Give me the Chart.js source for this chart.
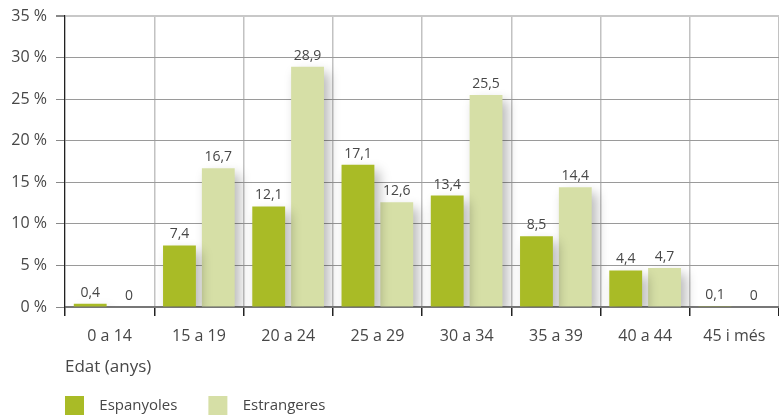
<!DOCTYPE html>
<html>
<head>
<meta charset="utf-8">
<script src="https://cdn.jsdelivr.net/npm/chart.js@4.4.1/dist/chart.umd.min.js"></script>
<style>
  html, body { margin: 0; padding: 0; background: #fff; }
  #wrap { width: 779px; height: 416px; }
</style>
</head>
<body>
<div id="wrap"><canvas id="chart"></canvas></div>
<script>
const categories = ['0 a 14', '15 a 19', '20 a 24', '25 a 29', '30 a 34', '35 a 39', '40 a 44', '45 i més'];
const espanyoles = [0.4, 7.4, 12.1, 17.1, 13.4, 8.5, 4.4, 0.1];
const estrangeres = [0, 16.7, 28.9, 12.6, 25.5, 14.4, 4.7, 0];
const yTicks = [0, 5, 10, 15, 20, 25, 30, 35];

const FONT = '"Open Sans", "DejaVu Sans", sans-serif';
const TEXT = '#474747';
const LEGEND_GAP = 31;

// soft drop shadow under the bars
const barShadow = {
  id: 'barShadow',
  beforeDatasetsDraw(chart) {
    const ctx = chart.ctx;
    ctx.save();
    ctx.shadowColor = 'rgba(0,0,0,0.28)';
    ctx.shadowBlur = 12;
    ctx.shadowOffsetX = 5;
    ctx.shadowOffsetY = 6;
  },
  afterDatasetsDraw(chart) {
    chart.ctx.restore();
  }
};

// value above each bar, decimal comma
const valueLabels = {
  id: 'valueLabels',
  afterDatasetsDraw(chart) {
    const ctx = chart.ctx;
    ctx.save();
    ctx.font = '14px ' + FONT;
    ctx.fillStyle = TEXT;
    ctx.textAlign = 'center';
    ctx.textBaseline = 'bottom';
    chart.data.datasets.forEach((ds, i) => {
      chart.getDatasetMeta(i).data.forEach((bar, j) => {
        const txt = String(ds.data[j]).replace('.', ',');
        ctx.fillText(txt, bar.x, bar.y - 4);
      });
    });
    ctx.restore();
  }
};

// legend sits flush with the y axis line; undo the label padding offset
const legendShift = {
  id: 'legendShift',
  afterLayout(chart) {
    chart.legend.left -= LEGEND_GAP;
    chart.legend.top -= LEGEND_GAP - 10;
  }
};

new Chart(document.getElementById('chart'), {
  type: 'bar',
  data: {
    labels: categories,
    datasets: [
      { label: 'Espanyoles', data: espanyoles, backgroundColor: '#a9bb26' },
      { label: 'Estrangeres', data: estrangeres, backgroundColor: '#d6dfa6' }
    ]
  },
  options: {
    responsive: true,
    maintainAspectRatio: false,
    animation: false,
    layout: { padding: { top: 16, right: 0, left: 0, bottom: 0 } },
    datasets: { bar: { categoryPercentage: 0.87, barPercentage: 0.846 } },
    plugins: {
      tooltip: { enabled: false },
      legend: {
        position: 'bottom',
        align: 'start',
        fullSize: false,
        maxHeight: 30,
        labels: {
          boxWidth: 19,
          boxHeight: 19,
          padding: LEGEND_GAP,
          color: TEXT,
          font: { family: FONT, size: 15 },
          generateLabels(chart) {
            const items = Chart.defaults.plugins.legend.labels.generateLabels(chart);
            items.forEach(it => { it.text = '  ' + it.text; });
            return items;
          }
        }
      }
    },
    scales: {
      x: {
        offset: true,
        afterFit(scale) { scale.height = 79; },
        grid: {
          offset: true,
          color: '#c2c2c2',
          lineWidth: 1.5,
          tickColor: '#222',
          tickLength: 9
        },
        border: { color: '#777', width: 2 },
        ticks: {
          color: TEXT,
          padding: 11,
          font: { family: FONT, size: 16 }
        },
        title: {
          display: true,
          text: 'Edat (anys)',
          align: 'start',
          color: TEXT,
          padding: { top: 8, bottom: 9 },
          font: { family: FONT, size: 17 }
        }
      },
      y: {
        min: 0,
        max: 35,
        afterFit(scale) {
          scale.width = 65;
          scale.paddingTop = 0;
          scale.paddingBottom = 0;
        },
        afterBuildTicks(scale) { scale.ticks = yTicks.map(v => ({ value: v })); },
        grid: {
          color: ctx => ctx.tick && ctx.tick.value === 35 ? '#c8c8c8' : '#9a9a9a',
          lineWidth: ctx => ctx.tick && ctx.tick.value === 35 ? 2 : 1,
          tickColor: '#888',
          tickLength: 9
        },
        border: { color: '#222', width: 1.2 },
        ticks: {
          color: TEXT,
          padding: 9,
          font: { family: FONT, size: 16 },
          callback: v => v + ' %'
        }
      }
    }
  },
  plugins: [barShadow, valueLabels, legendShift]
});
</script>
</body>
</html>
